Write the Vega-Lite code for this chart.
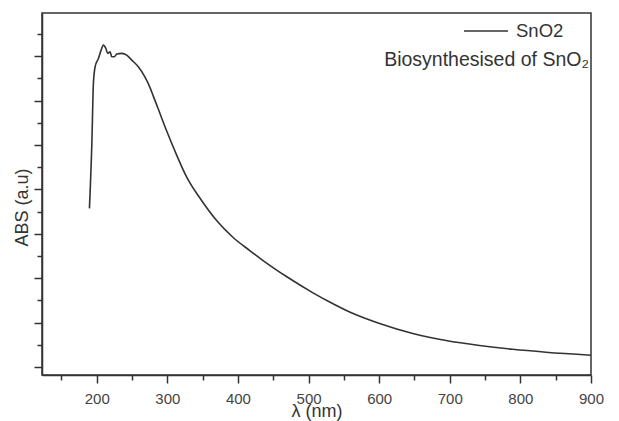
{
  "$schema": "https://vega.github.io/schema/vega-lite/v6.json",
  "autosize": "none",
  "width": 549,
  "height": 362,
  "padding": {"left": 42, "top": 13, "right": 28, "bottom": 46},
  "background": "white",
  "config": {
    "view": {"stroke": "#333", "strokeWidth": 1.5},
    "font": "Liberation Sans",
    "axis": {"grid": false, "domainColor": "#333", "domainWidth": 1.5, "tickColor": "#333", "tickWidth": 1.5, "labelColor": "#444", "titleColor": "#333", "titleFontWeight": "normal", "labelFont": "Liberation Sans", "titleFont": "Liberation Sans"}
  },
  "data": {"values": [
    {"wavelength": 189.7, "abs": 3.572, "series": "SnO2"},
    {"wavelength": 193.1, "abs": 5.035, "series": "SnO2"},
    {"wavelength": 195.3, "abs": 6.385, "series": "SnO2"},
    {"wavelength": 197.7, "abs": 6.759, "series": "SnO2"},
    {"wavelength": 202.4, "abs": 6.948, "series": "SnO2"},
    {"wavelength": 206.2, "abs": 7.135, "series": "SnO2"},
    {"wavelength": 209.5, "abs": 7.247, "series": "SnO2"},
    {"wavelength": 212.9, "abs": 7.173, "series": "SnO2"},
    {"wavelength": 215.7, "abs": 7.060, "series": "SnO2"},
    {"wavelength": 218.9, "abs": 7.097, "series": "SnO2"},
    {"wavelength": 221.3, "abs": 6.984, "series": "SnO2"},
    {"wavelength": 225.0, "abs": 6.984, "series": "SnO2"},
    {"wavelength": 228.4, "abs": 7.045, "series": "SnO2"},
    {"wavelength": 235.5, "abs": 7.060, "series": "SnO2"},
    {"wavelength": 242.5, "abs": 7.022, "series": "SnO2"},
    {"wavelength": 249.6, "abs": 6.910, "series": "SnO2"},
    {"wavelength": 258.9, "abs": 6.759, "series": "SnO2"},
    {"wavelength": 268.4, "abs": 6.527, "series": "SnO2"},
    {"wavelength": 275.5, "abs": 6.291, "series": "SnO2"},
    {"wavelength": 280.1, "abs": 6.099, "series": "SnO2"},
    {"wavelength": 287.2, "abs": 5.807, "series": "SnO2"},
    {"wavelength": 299.1, "abs": 5.312, "series": "SnO2"},
    {"wavelength": 313.2, "abs": 4.771, "series": "SnO2"},
    {"wavelength": 327.4, "abs": 4.276, "series": "SnO2"},
    {"wavelength": 346.1, "abs": 3.804, "series": "SnO2"},
    {"wavelength": 369.8, "abs": 3.297, "series": "SnO2"},
    {"wavelength": 393.2, "abs": 2.915, "series": "SnO2"},
    {"wavelength": 416.8, "abs": 2.622, "series": "SnO2"},
    {"wavelength": 435.6, "abs": 2.397, "series": "SnO2"},
    {"wavelength": 468.7, "abs": 2.037, "series": "SnO2"},
    {"wavelength": 506.3, "abs": 1.670, "series": "SnO2"},
    {"wavelength": 529.9, "abs": 1.463, "series": "SnO2"},
    {"wavelength": 558.2, "abs": 1.238, "series": "SnO2"},
    {"wavelength": 600.6, "abs": 0.979, "series": "SnO2"},
    {"wavelength": 647.6, "abs": 0.754, "series": "SnO2"},
    {"wavelength": 694.8, "abs": 0.596, "series": "SnO2"},
    {"wavelength": 741.9, "abs": 0.484, "series": "SnO2"},
    {"wavelength": 789.0, "abs": 0.398, "series": "SnO2"},
    {"wavelength": 836.2, "abs": 0.333, "series": "SnO2"},
    {"wavelength": 900.0, "abs": 0.266, "series": "SnO2"}
  ]},
  "resolve": {"axis": {"x": "independent", "y": "independent"}},
  "layer": [
    {
      "mark": {"type": "line", "strokeWidth": 1.6, "interpolate": "monotone"},
      "encoding": {
        "x": {
          "field": "wavelength", "type": "quantitative",
          "scale": {"domain": [122.5, 900], "nice": false, "zero": false},
          "axis": {
            "orient": "bottom",
            "title": "λ (nm)", "titleFontSize": 18, "titleY": 41, "titleBaseline": "alphabetic",
            "values": [200, 300, 400, 500, 600, 700, 800, 900],
            "labelFontSize": 15, "labelPadding": 8, "labelFlush": false, "tickSize": 8
          }
        },
        "y": {
          "field": "abs", "type": "quantitative",
          "scale": {"domain": [-0.18, 7.97], "nice": false, "zero": false},
          "axis": {
            "orient": "left",
            "title": "ABS (a.u)", "titleFontSize": 18, "titlePadding": 2, "titleY": 194,
            "values": [0, 1, 2, 3, 4, 5, 6, 7],
            "labels": false, "tickSize": 8
          }
        },
        "color": {
          "field": "series", "type": "nominal",
          "scale": {"range": ["#333333"]},
          "legend": {
            "title": null, "orient": "none", "legendX": 421, "legendY": 8,
            "symbolType": "stroke", "symbolSize": 1936, "symbolStrokeWidth": 1.5,
            "labelFontSize": 18.5, "labelColor": "#333", "labelOffset": 7, "labelFont": "Liberation Sans",
            "padding": 0, "clipHeight": 20
          }
        }
      }
    },
    {
      "mark": {"type": "line", "strokeOpacity": 0},
      "encoding": {
        "x": {
          "field": "wavelength", "type": "quantitative",
          "axis": {
            "orient": "bottom", "title": null, "domain": false, "labels": false,
            "values": [150, 250, 350, 450, 550, 650, 750, 850], "tickSize": 5
          }
        },
        "y": {
          "field": "abs", "type": "quantitative",
          "axis": {
            "orient": "left", "title": null, "domain": false, "labels": false,
            "values": [0.5, 1.5, 2.5, 3.5, 4.5, 5.5, 6.5, 7.5], "tickSize": 5
          }
        }
      }
    },
    {
      "data": {"values": [{"note": "Biosynthesised of SnO₂"}]},
      "mark": {"type": "text", "align": "right", "baseline": "middle", "fontSize": 19.5, "color": "#333", "font": "Liberation Sans", "dx": -2},
      "encoding": {
        "x": {"datum": 900, "type": "quantitative", "axis": null},
        "y": {"datum": 6.91, "type": "quantitative", "axis": null},
        "text": {"field": "note"}
      }
    }
  ]
}
